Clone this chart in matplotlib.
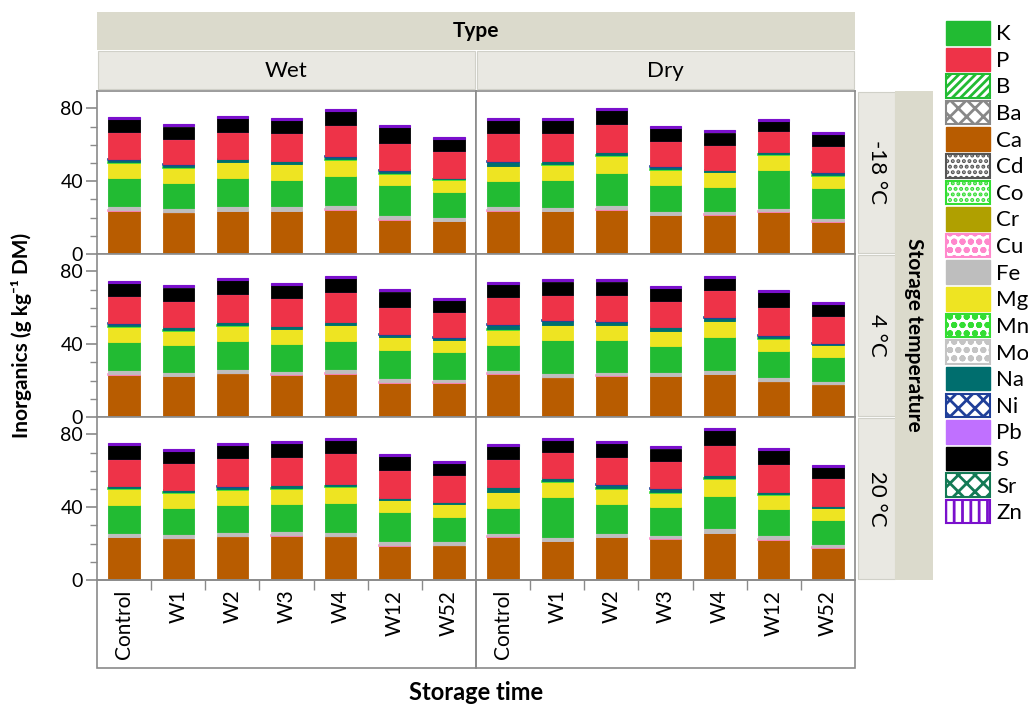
import numpy as np
import matplotlib
matplotlib.use('Agg')
import matplotlib.pyplot as plt
from matplotlib.patches import Rectangle, Patch

plt.rcParams['font.family'] = ['Lato', 'DejaVu Sans']
plt.rcParams['hatch.linewidth'] = 2.0

types = ['Wet', 'Dry']
temps = ['-18 °C', '4 °C', '20 °C']
times = ['Control', 'W1', 'W2', 'W3', 'W4', 'W12', 'W52']

# stacking order, bottom to top
elements = ['B', 'Ba', 'Ca', 'Cd', 'Co', 'Cr', 'Cu', 'Fe', 'K', 'Mg', 'Mn',
            'Mo', 'Na', 'Ni', 'P', 'Pb', 'S', 'Sr', 'Zn']
legend_order = ['K', 'P', 'B', 'Ba', 'Ca', 'Cd', 'Co', 'Cr', 'Cu', 'Fe', 'Mg',
                'Mn', 'Mo', 'Na', 'Ni', 'Pb', 'S', 'Sr', 'Zn']

# rows = panels: Wet -18, Dry -18, Wet 4, Dry 4, Wet 20, Dry 20
Ca = [[23.6, 22.7, 23.3, 23.3, 24.2, 18.7, 17.9],
      [23.6, 23.3, 24.2, 21.1, 21.4, 22.9, 17.4],
      [23.1, 22.3, 23.8, 23.1, 23.5, 18.7, 18.7],
      [23.5, 21.6, 22.5, 22.2, 23.3, 19.4, 17.7],
      [23.3, 22.7, 23.8, 24.2, 23.8, 18.5, 18.8],
      [23.6, 21.1, 23.3, 22.5, 25.5, 21.8, 17.5]]
Fe = [[2.5, 2.1, 2.4, 2.4, 2.5, 2.4, 2.1],
      [2.1, 2.3, 2.3, 1.9, 1.6, 1.9, 1.9],
      [2.3, 2.1, 2.1, 1.9, 2.4, 2.1, 1.7],
      [1.9, 1.9, 1.9, 1.9, 2.1, 1.9, 1.8],
      [2.3, 2.1, 2.1, 2.1, 2.3, 2.3, 2.0],
      [2.0, 2.2, 2.3, 1.9, 2.6, 2.6, 1.8]]
K = [[15.2, 13.9, 15.6, 14.6, 15.8, 16.3, 13.7],
     [13.7, 14.4, 17.7, 14.7, 13.3, 20.9, 16.4],
     [15.3, 14.5, 15.2, 14.4, 15.4, 15.8, 14.6],
     [13.5, 18.5, 17.2, 14.6, 17.9, 14.6, 12.9],
     [15.3, 14.2, 14.6, 15.1, 15.7, 16.0, 13.6],
     [13.6, 21.8, 15.8, 15.2, 17.4, 14.3, 13.3]]
Mg = [[8.3, 8.1, 8.6, 8.5, 8.9, 6.3, 6.6],
      [8.3, 8.3, 9.1, 8.2, 8.1, 8.1, 6.8],
      [8.3, 8.1, 8.5, 8.3, 8.6, 6.7, 6.6],
      [8.3, 7.9, 8.3, 7.9, 8.8, 6.6, 6.5],
      [8.5, 8.3, 8.7, 8.3, 8.9, 6.5, 6.7],
      [8.5, 8.2, 8.3, 7.9, 9.6, 7.4, 6.3]]
Na = [[1.3, 1.3, 1.2, 1.2, 1.2, 1.1, 0.5],
      [2.1, 1.7, 1.7, 1.1, 0.8, 1.2, 1.2],
      [1.2, 1.3, 1.5, 1.3, 1.2, 0.9, 1.0],
      [2.6, 2.1, 1.5, 1.7, 1.4, 1.2, 0.5],
      [1.1, 1.0, 1.1, 1.4, 0.9, 0.8, 0.6],
      [2.3, 1.8, 1.7, 1.7, 1.5, 1.1, 0.7]]
P = [[14.8, 13.7, 14.9, 15.1, 16.8, 15.1, 14.4],
     [15.3, 15.1, 15.1, 14.0, 13.6, 11.2, 14.4],
     [14.9, 14.4, 15.1, 15.0, 16.6, 15.2, 14.0],
     [14.8, 13.9, 14.3, 14.2, 15.3, 15.3, 14.8],
     [15.0, 14.6, 15.4, 15.5, 16.8, 15.1, 14.7],
     [15.1, 14.1, 15.0, 14.8, 16.3, 15.3, 15.0]]
S = [[7.4, 7.0, 7.4, 7.4, 7.7, 8.4, 6.7],
     [7.4, 7.4, 7.6, 6.9, 6.7, 5.7, 6.6],
     [7.2, 7.2, 7.6, 7.4, 7.4, 8.3, 6.5],
     [7.2, 7.3, 7.5, 7.0, 6.3, 8.3, 6.7],
     [7.2, 6.8, 7.4, 7.4, 7.4, 7.8, 6.5],
     [7.2, 6.6, 7.6, 7.0, 8.1, 7.8, 6.4]]
# minor elements, about the same in every sample
trace = {'B': 0.05, 'Ba': 0.03, 'Cd': 0.01, 'Co': 0.01, 'Cr': 0.05,
         'Cu': 0.3, 'Mn': 0.4, 'Mo': 0.01, 'Ni': 0.3, 'Pb': 0.02,
         'Sr': 0.1, 'Zn': 1.1}
major = {'Ca': Ca, 'Fe': Fe, 'K': K, 'Mg': Mg, 'Na': Na, 'P': P, 'S': S}

colors = {'K': '#22BB33', 'P': '#EE3348', 'B': '#22BB33', 'Ba': '#888888',
          'Ca': '#B85C00', 'Cd': '#555555', 'Co': '#33DD33', 'Cr': '#B0A000',
          'Cu': '#FF88CC', 'Fe': '#BEBEBE', 'Mg': '#EEE422', 'Mn': '#33DD33',
          'Mo': '#C4C4C4', 'Na': '#006E6E', 'Ni': '#1F3F99', 'Pb': '#C070FF',
          'S': '#000000', 'Sr': '#137A55', 'Zn': '#7A10CC'}
hatches = {'B': '////', 'Ba': 'xx', 'Cd': '...', 'Co': '...', 'Cu': 'oo',
           'Mn': 'oo', 'Mo': 'oo', 'Ni': 'xx', 'Sr': 'xx', 'Zn': '||'}
edge_lw = {'Cu': 1.2, 'Mn': 1.2, 'Ni': 1.2, 'Pb': 0.8, 'Zn': 0.8,
           'B': 0, 'Ba': 0, 'Cd': 0, 'Co': 0, 'Cr': 0, 'Mo': 0, 'Sr': 0}

W, H = 1028, 708
fig = plt.figure(figsize=(W / 100, H / 100), dpi=100)

def fx(px):
    return px / W

def fy(py):
    return 1 - py / H

col_x = [97, 476, 855]
row_y = [91, 254, 417, 580]
grey = '#8A8A8A'
x = np.arange(len(times))

for p in range(6):
    r, c = p // 2, p % 2
    ax = fig.add_axes([fx(col_x[c]), fy(row_y[r + 1]),
                       fx(col_x[c + 1] - col_x[c]), (row_y[r + 1] - row_y[r]) / H])
    bottom = np.zeros(len(times))
    for el in elements:
        vals = np.array(major[el][p]) if el in major else np.full(len(times), trace[el])
        ax.bar(x, vals, 0.58, bottom=bottom, color=colors[el],
               edgecolor=colors[el], linewidth=edge_lw.get(el, 0.6))
        bottom += vals
    ax.set_xlim(-0.5, 6.5)
    ax.set_ylim(0, 89.5)
    for s in ax.spines.values():
        s.set_color(grey)
        s.set_linewidth(1.2)
    ax.set_yticks([0, 40, 80])
    ax.set_yticks([10, 20, 30, 50, 60, 70], minor=True)
    ax.tick_params(axis='y', which='major', length=8, color=grey, width=1.2,
                   labelsize=14, pad=2)
    ax.tick_params(axis='y', which='minor', length=5, color=grey, width=1.0)
    if c == 1:
        ax.tick_params(axis='y', which='both', left=False, labelleft=False)
    else:
        ax.get_yticklabels()[0].set_verticalalignment('center_baseline')
    ax.set_xticks(x)
    ax.set_xticks(np.arange(0.5, 6.5, 1), minor=True)
    if r == 2:
        ax.set_xticklabels(times, rotation=90, fontsize=15)
        ax.tick_params(axis='x', which='major', length=0, pad=7)
        ax.tick_params(axis='x', which='minor', length=7, color=grey, width=1.0)
    else:
        ax.tick_params(axis='x', which='both', bottom=False, labelbottom=False)

# box below the panels around the tick labels
for c in range(2):
    fig.patches.append(Rectangle((fx(col_x[c]), fy(668)), fx(col_x[c + 1] - col_x[c]),
                                 (668 - 580) / H, transform=fig.transFigure,
                                 facecolor='none', edgecolor=grey, lw=1.2))

# strips
dark = '#DBDACC'
light = '#E9E8E2'
fig.patches.append(Rectangle((fx(97), fy(50)), fx(855 - 97), 38 / H,
                             transform=fig.transFigure, facecolor=dark, edgecolor='none'))
fig.text(fx(476), fy(31), 'Type', ha='center', va='center', fontsize=15, fontweight='bold')
for c in range(2):
    fig.patches.append(Rectangle((fx(col_x[c] + 1), fy(89)), fx(col_x[c + 1] - col_x[c] - 2),
                                 38 / H, transform=fig.transFigure, facecolor=light,
                                 edgecolor='#D0D0C8', lw=0.8))
    fig.text(fx((col_x[c] + col_x[c + 1]) / 2), fy(71), types[c], ha='center',
             va='center', fontsize=16)
for r in range(3):
    fig.patches.append(Rectangle((fx(858), fy(row_y[r + 1] - 1)), fx(37),
                                 (row_y[r + 1] - row_y[r] - 2) / H, transform=fig.transFigure,
                                 facecolor=light, edgecolor='#D0D0C8', lw=0.8))
    fig.text(fx(877), fy((row_y[r] + row_y[r + 1]) / 2), temps[r], ha='center',
             va='center', rotation=-90, fontsize=16)
fig.patches.append(Rectangle((fx(895), fy(580)), fx(38), (580 - 91) / H,
                             transform=fig.transFigure, facecolor=dark, edgecolor='none'))
fig.text(fx(914), fy(335), 'Storage temperature', ha='center', va='center',
         rotation=-90, fontsize=15, fontweight='bold')

fig.text(fx(22), fy(335), 'Inorganics (g kg⁻¹ DM)', ha='center', va='center',
         rotation=90, fontsize=15, fontweight='bold')
fig.text(fx(476), fy(693), 'Storage time', ha='center', va='center',
         fontsize=17, fontweight='bold')

handles = []
for el in legend_order:
    if el in hatches:
        handles.append(Patch(facecolor='white', edgecolor=colors[el],
                             hatch=hatches[el], lw=1.5))
    else:
        handles.append(Patch(facecolor=colors[el], edgecolor=colors[el]))
fig.legend(handles, legend_order, loc='upper left', bbox_to_anchor=(fx(946), fy(21)),
           frameon=False, fontsize=16, handlelength=2.0, handleheight=1.25,
           labelspacing=0.14, handletextpad=0.25, borderpad=0, borderaxespad=0)

fig.savefig('out.png', dpi=100)
